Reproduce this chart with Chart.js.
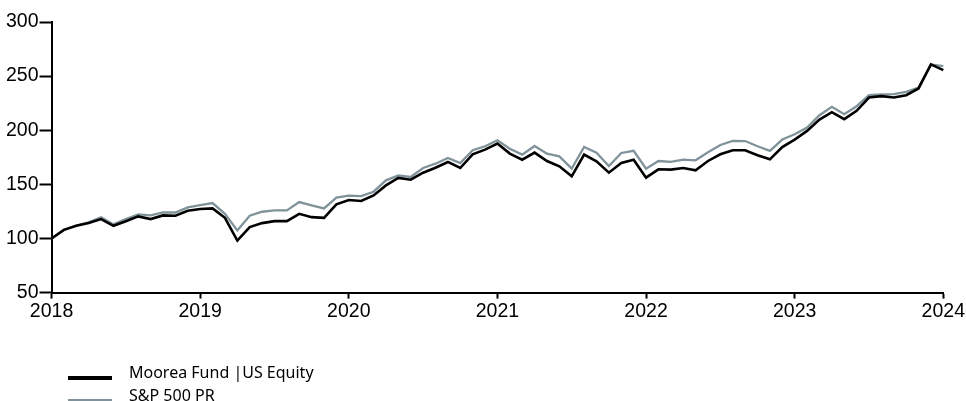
<!DOCTYPE html>
<html>
<head>
<meta charset="utf-8">
<script src="https://cdn.jsdelivr.net/npm/chart.js@4"></script>
<style>
  html, body { margin: 0; padding: 0; background: #fff; overflow: hidden; }
  #wrap { position: relative; width: 966px; height: 401px; }
  #legend { position: absolute; left: 0; top: 0; width: 966px; height: 401px; pointer-events: none; font-family: "Noto Sans", sans-serif; font-size: 16px; color: #000; }
  .lg-box { position: absolute; left: 68px; width: 44px; height: 4px; }
  .lg-text { position: absolute; left: 129px; line-height: 22px; white-space: nowrap; }
</style>
</head>
<body>
<div id="wrap">
  <canvas id="c" width="966" height="401"></canvas>
  <div id="legend"></div>
</div>
<script>
// ---- Data (monthly, Jan 2018 .. Jan 2024) ----
const yearTicks = ['2018', '2019', '2020', '2021', '2022', '2023', '2024'];
const monthNames = ['Jan','Feb','Mar','Apr','May','Jun','Jul','Aug','Sep','Oct','Nov','Dec'];
const seriesNames = ['Moorea Fund |US Equity', 'S&P 500 PR'];

const mooreaFund = [
  100.0, 108.0, 111.7, 114.2, 117.9, 111.7, 116.0, 120.4, 117.9, 121.3, 121.0, 125.6,
  127.2, 127.8, 119.1, 98.1, 110.5, 114.2, 116.0, 116.0, 122.8, 119.7, 119.1, 131.5,
  135.5, 134.6, 139.8, 149.0, 155.9, 154.3, 160.8, 165.4, 170.7, 165.1, 177.8, 182.1,
  187.7, 178.4, 172.8, 179.3, 171.6, 166.7, 157.4, 177.5, 171.3, 160.8, 169.7, 172.8,
  156.2, 163.9, 163.6, 165.1, 163.0, 171.6, 177.8, 181.5, 181.5, 176.9, 173.1, 184.5,
  191.4, 199.4, 209.9, 216.7, 210.2, 217.9, 230.2, 231.5, 230.2, 232.4, 238.6, 260.8,
  255.6
];
const sp500 = [
  100.0, 108.0, 112.0, 115.0, 119.7, 113.0, 118.0, 122.2, 121.3, 124.1, 124.0, 128.7,
  130.9, 132.7, 122.8, 107.4, 121.0, 124.7, 125.9, 125.9, 133.6, 130.6, 127.8, 137.7,
  139.5, 139.2, 143.2, 153.7, 158.3, 156.8, 165.1, 169.1, 174.4, 169.7, 181.5, 185.2,
  190.7, 182.9, 177.5, 185.5, 178.4, 175.9, 164.5, 184.5, 179.3, 167.0, 179.0, 181.0,
  164.5, 171.6, 170.7, 172.8, 172.2, 179.6, 186.4, 190.1, 190.0, 185.2, 180.9, 191.4,
  196.3, 202.5, 213.9, 221.6, 214.8, 222.2, 232.4, 233.0, 233.3, 235.5, 239.5, 260.8,
  259.3
];

// category labels: one per month
const labels = [];
for (let i = 0; i < mooreaFund.length; i++) {
  const y = yearTicks[Math.floor(i / 12)];
  labels.push(monthNames[i % 12] + ' ' + y);
}

const colors = ['#000000', '#80939a'];
const tickFont = { family: '"Liberation Sans", Arial, sans-serif', size: 19.5 };

const chart = new Chart(document.getElementById('c'), {
  type: 'line',
  data: {
    labels: labels,
    datasets: [
      { label: seriesNames[0], data: mooreaFund, borderColor: colors[0], backgroundColor: colors[0], borderWidth: 2.6, pointRadius: 0, tension: 0, fill: false },
      { label: seriesNames[1], data: sp500, borderColor: colors[1], backgroundColor: colors[1], borderWidth: 2.3, pointRadius: 0, tension: 0, fill: false }
    ]
  },
  options: {
    responsive: false,
    animation: false,
    devicePixelRatio: 1,
    layout: { padding: { top: 22, bottom: 77, left: 5, right: -3 } },
    plugins: { legend: { display: false }, tooltip: { enabled: false } },
    scales: {
      x: {
        type: 'category',
        offset: false,
        border: { display: true, color: '#000', width: 2 },
        grid: {
          drawOnChartArea: false,
          drawTicks: true,
          tickLength: 6,
          tickWidth: 2,
          tickColor: (ctx) => (ctx.index % 12 === 0 ? '#000' : 'rgba(0,0,0,0)')
        },
        ticks: {
          autoSkip: false,
          maxRotation: 0,
          minRotation: 0,
          padding: 1,
          color: '#000',
          font: tickFont,
          callback: function (value, index) { return index % 12 === 0 ? yearTicks[index / 12] : ''; }
        }
      },
      y: {
        min: 50,
        max: 300,
        border: { display: true, color: '#000', width: 2 },
        grid: { drawOnChartArea: false, drawTicks: true, tickLength: 12, tickWidth: 2, tickColor: '#000' },
        ticks: {
          stepSize: 50,
          padding: 1,
          color: '#000',
          font: tickFont
        }
      }
    }
  }
});

// HTML legend built from the chart's datasets
const legendEl = document.getElementById('legend');
const items = chart.data.datasets;
items.forEach((ds, i) => {
  const rowTop = 361 + i * 23;
  const box = document.createElement('div');
  box.className = 'lg-box';
  box.style.top = (rowTop + 15) + 'px';
  box.style.background = ds.borderColor;
  legendEl.appendChild(box);
  const txt = document.createElement('div');
  txt.className = 'lg-text';
  txt.style.top = rowTop + 'px';
  txt.textContent = ds.label;
  legendEl.appendChild(txt);
});
</script>
</body>
</html>
